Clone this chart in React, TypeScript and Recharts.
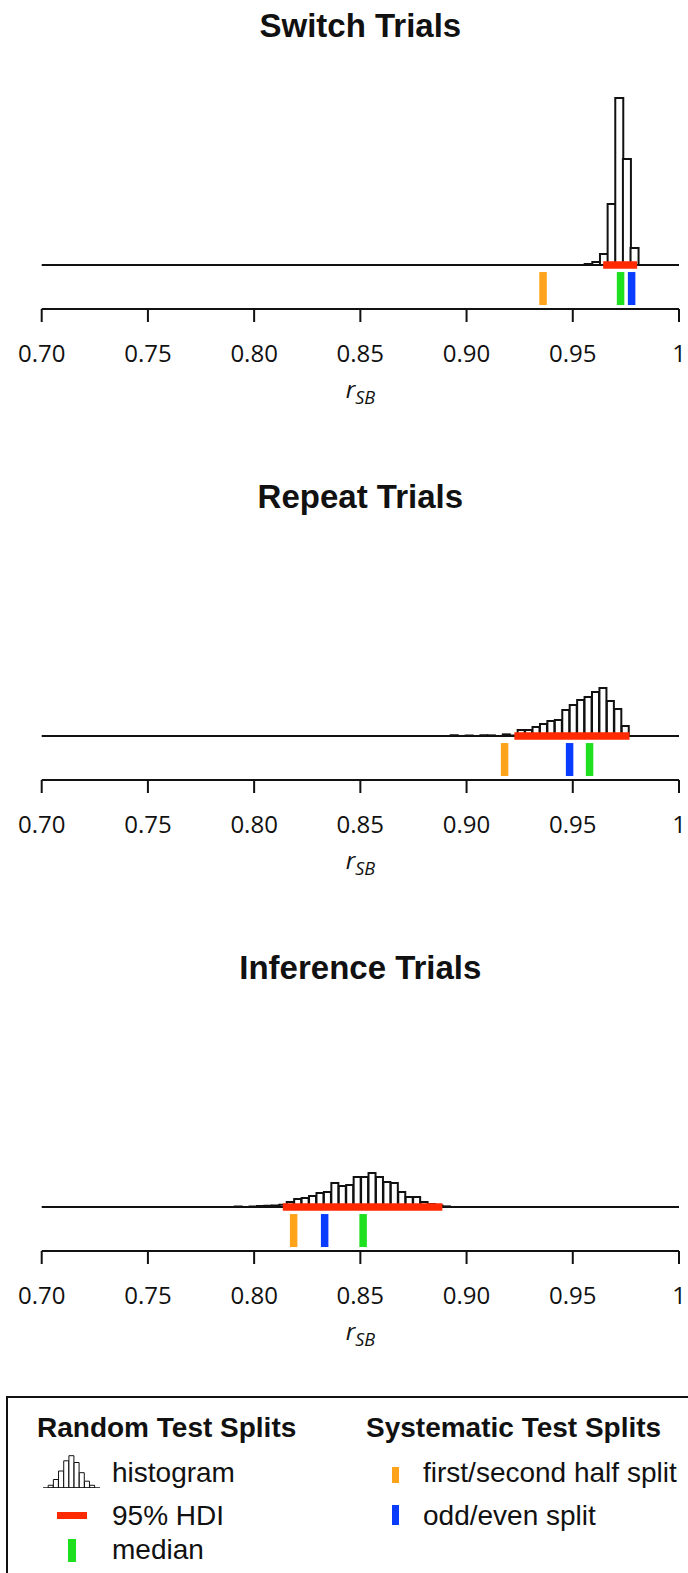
import React from 'react';
import { ComposedChart, BarChart, Bar, XAxis, YAxis, ReferenceLine } from 'recharts';

// panel titles
const panelTitles = ['Switch Trials', 'Repeat Trials', 'Inference Trials'];

// histogram bin mids + densities
const switchBinMids = [0.9574, 0.961, 0.9646, 0.9682, 0.9718, 0.9754, 0.979];
const switchDensity = [0.8, 2.3, 8.6, 47.7, 130.7, 82.9, 13.3];

const repeatBinMids = [
  0.8943, 0.9013, 0.9083, 0.9118, 0.9188, 0.9223, 0.9258, 0.9293, 0.9328, 0.9363, 0.9398, 0.9433,
  0.9468, 0.9503, 0.9538, 0.9573, 0.9608, 0.9643, 0.9678, 0.9713, 0.9748,
];
const repeatDensity = [
  0.6, 0.4, 0.6, 0.5, 1.3, 0.4, 4.7, 4.7, 7.0, 9.4, 11.7, 12.5,
  20.3, 24.3, 28.2, 30.5, 34.4, 37.6, 27.4, 21.1, 7.8,
];

const inferenceBinMids = [
  0.7926, 0.7996, 0.8031, 0.8066, 0.8101, 0.8136, 0.8171, 0.8206, 0.8241, 0.8276, 0.8311, 0.8346,
  0.8381, 0.8416, 0.8451, 0.8486, 0.8521, 0.8556, 0.8591, 0.8626, 0.8661, 0.8696, 0.8731, 0.8766,
  0.8801, 0.8836, 0.8871, 0.8906,
];
const inferenceDensity = [
  0.4, 0.5, 0.8, 1.0, 1.2, 1.8, 3.9, 6.3, 7.0, 8.6, 11.0, 11.7,
  18.8, 16.4, 17.2, 23.5, 23.5, 26.6, 23.5, 19.6, 18.8, 11.7, 7.8, 7.8,
  3.9, 2.3, 1.2, 0.5,
];

// 95% HDI [low, high] per panel
const hdiLow = [0.9643, 0.9225, 0.8135];
const hdiHigh = [0.9803, 0.9767, 0.8886];
// medians and systematic splits
const medians = [0.9725, 0.9579, 0.8513];
const firstSecondSplit = [0.936, 0.9179, 0.8186];
const oddEvenSplit = [0.9777, 0.9485, 0.8332];

const tickValues = [0.7, 0.75, 0.8, 0.85, 0.9, 0.95, 1];
const tickLabels = ['0.70', '0.75', '0.80', '0.85', '0.90', '0.95', '1'];

// little histogram glyph for the legend
const iconBins = [0, 8, 25, 50, 80, 95, 75, 45, 20, 8, 0];

const ORANGE = '#ffa31a';
const BLUE = '#0a3cff';
const GREEN = '#1ee01e';
const RED = '#ff2a00';
const INK = '#111';

const PANEL_H = 471;
const Y_MAX = 176;
const Y_MIN = -34.4;
const MARK_TOP = -5.5;
const MARK_BOTTOM = -31.3;

const rsbLabel = (props: any) => {
  const vb = props.viewBox;
  const cx = vb.x + vb.width / 2;
  return (
    <text x={cx} y={vb.y + 89} textAnchor="middle" fontFamily="Open Sans" fontStyle="italic" fill={INK}>
      <tspan fontSize={24}>r</tspan>
      <tspan fontSize={18} dy={6}>SB</tspan>
    </text>
  );
};

const Panel = ({ idx, mids, dens }: { idx: number; mids: number[]; dens: number[] }) => {
  const data = mids.map((x, i) => ({ x, d: dens[i] }));
  const mark = (v: number, color: string) => (
    <ReferenceLine
      segment={[{ x: v, y: MARK_TOP }, { x: v, y: MARK_BOTTOM }]}
      stroke={color}
      strokeWidth={7.5}
    />
  );
  return (
    <div style={{ position: 'absolute', left: 0, top: idx * PANEL_H, width: 688, height: PANEL_H }}>
      <div
        style={{
          position: 'absolute',
          top: 9,
          left: 41.7,
          width: 637.3,
          textAlign: 'center',
          font: 'bold 33px "Liberation Sans", Arial, sans-serif',
          lineHeight: '33px',
          color: INK,
        }}
      >
        {panelTitles[idx]}
      </div>
      <ComposedChart
        width={688}
        height={PANEL_H}
        data={data}
        margin={{ top: 40, right: 9, bottom: 62, left: 41.7 }}
        barCategoryGap={0}
        barGap={0}
      >
        <XAxis
          dataKey="x"
          type="number"
          domain={[0.7, 1]}
          ticks={tickValues}
          interval={0}
          tickFormatter={(v: number, i: number) => tickLabels[i]}
          height={100}
          tickSize={13}
          tickMargin={23}
          axisLine={{ stroke: INK, strokeWidth: 2 }}
          tickLine={{ stroke: INK, strokeWidth: 2 }}
          tick={{ fill: INK, fontSize: 24, fontFamily: 'Open Sans' }}
          label={rsbLabel}
        />
        <YAxis hide type="number" domain={[Y_MIN, Y_MAX]} allowDataOverflow />
        <ReferenceLine y={0} stroke={INK} strokeWidth={2} />
        <Bar dataKey="d" fill="#fff" stroke={INK} strokeWidth={2} isAnimationActive={false} />
        <ReferenceLine
          segment={[{ x: hdiLow[idx], y: 0 }, { x: hdiHigh[idx], y: 0 }]}
          stroke={RED}
          strokeWidth={7.5}
        />
        {mark(firstSecondSplit[idx], ORANGE)}
        {mark(oddEvenSplit[idx], BLUE)}
        {mark(medians[idx], GREEN)}
      </ComposedChart>
    </div>
  );
};

const LegendBox = () => {
  const iconData = iconBins.map((h, i) => ({ i, h }));
  const txt = { fontFamily: '"Liberation Sans", Arial, sans-serif', fontSize: 28, fill: INK };
  return (
    <div style={{ position: 'absolute', left: 0, top: 1380, width: 688, height: 193 }}>
      <svg width={688} height={193} style={{ position: 'absolute', left: 0, top: 0 }}>
        <rect x={7} y={17} width={700} height={200} fill="none" stroke={INK} strokeWidth={2} />
        <text x={37} y={57} {...txt} fontWeight="bold">Random Test Splits</text>
        <text x={366} y={57} {...txt} fontWeight="bold">Systematic Test Splits</text>
        <text x={112} y={102} {...txt}>histogram</text>
        <text x={112} y={145} {...txt}>95% HDI</text>
        <text x={112} y={179} {...txt}>median</text>
        <text x={423} y={102} {...txt}>first/second half split</text>
        <text x={423} y={145} {...txt}>odd/even split</text>
        <rect x={57} y={132} width={30} height={7} fill={RED} />
        <rect x={68} y={159} width={8} height={23} fill={GREEN} />
        <rect x={392} y={87} width={7} height={16} fill={ORANGE} />
        <rect x={392} y={125} width={7} height={20} fill={BLUE} />
      </svg>
      <div style={{ position: 'absolute', left: 43, top: 74 }}>
        <BarChart width={57} height={34} data={iconData} margin={{ top: 0, right: 0, bottom: 0, left: 0 }} barCategoryGap={0}>
          <XAxis dataKey="i" hide />
          <YAxis hide domain={[0, 100]} />
          <ReferenceLine y={0} stroke={INK} strokeWidth={1.5} />
          <Bar dataKey="h" fill="#fff" stroke={INK} strokeWidth={1} isAnimationActive={false} />
        </BarChart>
      </div>
    </div>
  );
};

const App = () => (
  <div
    style={{
      position: 'absolute',
      left: 0,
      top: 0,
      width: 688,
      height: 1573,
      overflow: 'hidden',
      background: '#fff',
    }}
  >
    <Panel idx={0} mids={switchBinMids} dens={switchDensity} />
    <Panel idx={1} mids={repeatBinMids} dens={repeatDensity} />
    <Panel idx={2} mids={inferenceBinMids} dens={inferenceDensity} />
    <LegendBox />
  </div>
);

export default App;
